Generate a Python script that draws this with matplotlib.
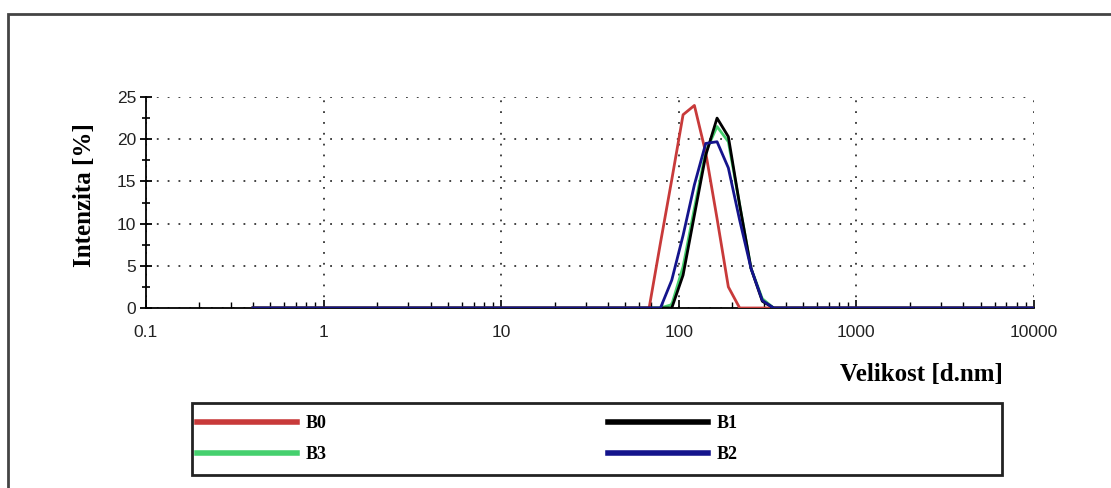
import matplotlib.pyplot as plt
from matplotlib.lines import Line2D
from matplotlib.patches import Rectangle
from matplotlib.ticker import LogLocator, FixedLocator, FuncFormatter

# Velikostni tridy (nm) a intenzity (%)
sizes = [0.4, 58.77, 68.06, 78.82, 91.28, 105.7, 122.4, 141.8, 164.2,
         190.1, 220.2, 255.0, 295.3, 342.0, 396.1, 10000]
b0 = [0, 0, 0, 7.7, 15.2, 22.9, 24.0, 18.4, 10.6, 2.5, 0, 0, 0, 0, 0, 0]
b1 = [0, 0, 0, 0, 0, 3.9, 11.0, 18.1, 22.5, 20.3, 12.2, 4.7, 0.8, 0, 0, 0]
b3 = [0, 0, 0, 0, 0.4, 4.9, 11.8, 18.5, 21.5, 19.7, 12.2, 4.7, 1.1, 0, 0, 0]
b2 = [0, 0, 0, 0, 3.3, 8.6, 14.6, 19.5, 19.7, 16.6, 10.4, 4.7, 0.9, 0, 0, 0]

series = [("B0", b0, "#c83a3a"), ("B1", b1, "#000000"),
          ("B3", b3, "#45d06e"), ("B2", b2, "#14148c")]
legend_order = ["B0", "B3", "B1", "B2"]

W, H = 1111, 488
fig = plt.figure(figsize=(W / 100, H / 100), dpi=100)

# vnejsi ramecek
fig.patches.append(Rectangle((8 / W, -0.1), 1.2, 1 - 14 / H + 0.1,
                             transform=fig.transFigure, fill=False,
                             edgecolor="#444444", linewidth=2))

ax = fig.add_axes([146 / W, 1 - 308 / H, (1034 - 146) / W, (308 - 97) / H])
for name, vals, col in series:
    ax.plot(sizes, vals, color=col, linewidth=2, zorder=3 if name != "B3" else 2)

ax.set_xscale("log")
ax.set_xlim(0.1, 10000)
ax.set_ylim(0, 25)
ax.set_yticks([0, 5, 10, 15, 20, 25])
ax.yaxis.set_minor_locator(FixedLocator([2.5, 7.5, 12.5, 17.5, 22.5]))
ax.xaxis.set_major_locator(LogLocator(base=10, numticks=10))
ax.xaxis.set_minor_locator(LogLocator(base=10, subs=range(2, 10), numticks=20))
ax.xaxis.set_major_formatter(FuncFormatter(lambda v, p: f"{v:g}"))

for s in ["top", "right"]:
    ax.spines[s].set_visible(False)
ax.spines["left"].set_linewidth(1.3)
ax.spines["bottom"].set_linewidth(1.3)

ax.grid(True, which="major", color="#333333", linestyle=(0, (1, 5)), linewidth=1.3)
ax.set_axisbelow(True)

ax.tick_params(axis="y", which="major", direction="inout", length=8, width=1.3,
               pad=3, labelsize=12.5)
ax.tick_params(axis="y", which="minor", direction="inout", length=6, width=1.2)
ax.tick_params(axis="x", which="major", direction="in", length=6, width=1.2,
               pad=12, labelsize=12.5)
ax.tick_params(axis="x", which="minor", direction="in", length=4, width=1.0)
for lab in ax.get_xticklabels() + ax.get_yticklabels():
    lab.set_fontfamily("Liberation Sans")
    lab.set_color("#222222")

fig.text(85 / W, 1 - 195 / H, "Intenzita [%]", rotation=90, ha="center", va="center",
         fontsize=18, fontweight="bold", family="Liberation Serif")
fig.text(1003 / W, 1 - 375 / H, "Velikost [d.nm]", ha="right", va="center",
         fontsize=18, fontweight="bold", family="Liberation Serif")

# legenda
fig.patches.append(Rectangle((192 / W, 1 - 475 / H), (1002 - 192) / W, (475 - 403) / H,
                             transform=fig.transFigure, fill=False,
                             edgecolor="#222222", linewidth=2))
colors = {n: c for n, v, c in series}
handles = [Line2D([], [], color=colors[n], linewidth=4) for n in legend_order]
fig.legend(handles, legend_order, loc="upper left",
           bbox_to_anchor=(197 / W, 1 - 415 / H), ncol=2, frameon=False,
           borderpad=0, borderaxespad=0, handlelength=5.54, handletextpad=0.5,
           columnspacing=15.55, labelspacing=0.8,
           prop={"family": "Liberation Serif", "weight": "bold", "size": 13})

fig.savefig("out.png", dpi=100)
